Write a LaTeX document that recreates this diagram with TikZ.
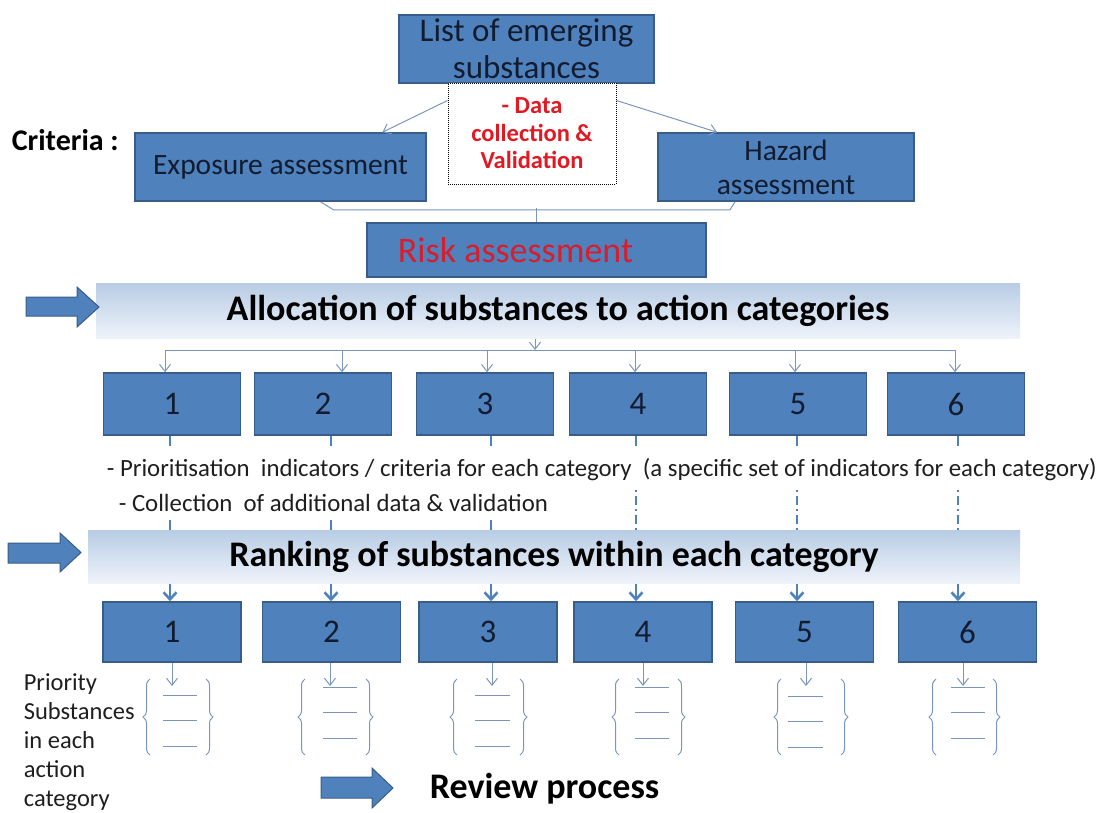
\documentclass[tikz,border=0pt]{standalone}
\usepackage{fontspec}
\setmainfont{Carlito}
\usetikzlibrary{arrows.meta,decorations.pathreplacing}
\definecolor{boxfill}{RGB}{79,129,189}
\definecolor{boxline}{RGB}{56,93,138}
\definecolor{boxtext}{RGB}{18,28,48}
\definecolor{connline}{RGB}{122,150,190}
\definecolor{redtext}{RGB}{225,25,35}
\definecolor{risktext}{RGB}{215,30,45}
\definecolor{bantop}{RGB}{184,204,228}
\definecolor{banbot}{RGB}{238,243,250}
\definecolor{plaintext}{RGB}{30,30,30}
\tikzset{
every picture/.style={
line width=1pt
}}
\newcommand{\fsz}[2]{\fontsize{#1}{#2}\selectfont}

\begin{document}
\begin{tikzpicture}[x=1pt, y=-1pt,
block/.style = {rectangle, draw=boxline, fill=boxfill, line width=1.6pt, inner sep=0pt, align=center, text=boxtext},
banner/.style = {rectangle, top color=bantop, bottom color=banbot, inner sep=0pt, font=\bfseries\fsz{36}{42}},
conn/.style = {draw=connline, line width=1pt},
tip/.style = {conn, -{Straight Barb[length=7pt,width=11pt]}},
stub/.style = {draw=boxfill, line width=2.6pt},
bigtip/.style = {stub, -{Straight Barb[length=7pt,width=13pt]}},
bigarrow/.style = {fill=boxfill, draw=boxline, line width=1pt},
curly/.style = {conn, decorate, decoration={brace, amplitude=7pt}}]

\useasboundingbox (0,0) rectangle (1100,812);

% top part
\node[block, minimum width=255pt, minimum height=68pt, font=\fsz{33}{37}] (list) at (526.5,49) {List of emerging\\substances};
\node[draw=black, densely dotted, fill=white, minimum width=168pt, minimum height=101pt, inner sep=0pt, align=center, text=redtext, font=\bfseries\fsz{24.5}{27.5}] (data) at (532,133.5) {- Data\\collection \&\\Validation};
\node[anchor=west, font=\bfseries\fsz{30}{34}] (crit) at (8,140) {Criteria :};
\node[block, minimum width=291pt, minimum height=68pt, font=\fsz{29.5}{34}] (expo) at (280.5,167) {Exposure assessment};
\node[block, minimum width=256pt, minimum height=68pt, font=\fsz{29.5}{34}] (haz) at (786,167) {Hazard\\assessment};
\node[block, minimum width=339pt, minimum height=54pt, text=risktext, font=\fsz{36}{40}] (risk) at (536.5,250) {Risk assessment\hspace*{42pt}};

\draw[tip] ([yshift=33pt]data.west) -- ([xshift=102pt]expo.north);
\draw[tip] ([yshift=33pt]data.east) -- ([xshift=-69pt]haz.north);
\draw[conn] ([xshift=40pt]expo.south) -- ++(13,8) -- ([xshift=-56pt,yshift=-8pt]haz.south) -- ([xshift=-51pt]haz.south);
\draw[conn] (risk.north) -- ++(0,-14);

% banners
\node[banner, minimum width=924pt, minimum height=55pt] (alloc) at (558,310.5) {Allocation of substances to action categories};
\node[banner, minimum width=932pt, minimum height=53pt] (rank) at (554,556.5) {Ranking of substances within each category};
\draw[bigarrow] (26,297) -- (77,297) -- (77,287) -- (99,307) -- (77,327) -- (77,316) -- (26,316) -- cycle;
\draw[bigarrow] (8,543) -- (60,543) -- (60,533) -- (81,552.5) -- (60,572) -- (60,563) -- (8,563) -- cycle;
\draw[bigarrow] (321,777) -- (372,777) -- (372,768) -- (393,788) -- (372,808) -- (372,798) -- (321,798) -- cycle;

% action categories
\foreach \c [count=\i] in {172,323,485,638,798,956}
  \node[block, minimum width=137pt, minimum height=62pt, font=\fsz{33}{37}] (r1-\i) at (\c,404) {\i};
\foreach \c [count=\i] in {172,331.5,488,643,804.5,967.5}
  \node[block, minimum width=138pt, minimum height=60pt, font=\fsz{33}{37}] (r2-\i) at (\c,632) {\i};

\coordinate (split) at (535,350);
\draw[tip] ([xshift=-23pt]alloc.south) -- (split);
\draw[conn] (split -| 165,0) -- (split -| 955,0);
\foreach \ax [count=\i] in {165,342,487,635,795,955}
  \draw[tip] (split -| \ax,0) -- (r1-\i.north -| \ax,0);

\foreach \t [count=\i] in {170,331,491,636,797,958} {
  \draw[stub] (r1-\i.south -| \t,0) -- ++(0,10);
  \draw[bigtip] (rank.south -| \t,0) -- (r2-\i.north -| \t,0);
}
\foreach \t in {170,331,491}
  \draw[stub] (rank.north -| \t,0) -- ++(0,-10);
\foreach \t in {636,797,958}
  \draw[stub, dash pattern=on 2pt off 4pt on 9pt off 4pt] (rank.north -| \t,0) -- ++(0,-42);

\node[anchor=west, font=\fsz{24.8}{28}, text=plaintext] (ind) at (103,470) {- Prioritisation\ \ indicators / criteria for each category\ \ (a specific set of indicators for each category)};
\node[anchor=west, font=\fsz{24.8}{28}, text=plaintext] (coll) at (115,503) {- Collection\ \ of additional data \& validation};

% priority substances
\foreach \l/\r/\a/\b/\y/\ax [count=\i] in {143/213/163/197/695/172, 298/373/323/357/687/330, 450/527/475/510/695/492, 612/685/635/669/687/643, 774/848/788/823/696/806, 929/1000/951/985/687/963} {
  \draw[curly] (\l+7,755) -- (\l+7,679);
  \draw[curly] (\r-7,679) -- (\r-7,755);
  \foreach \k in {0,1,2}
    \draw[conn] (\a,\y+25.5*\k) -- (\b,\y+25.5*\k);
  \draw[tip] (r2-\i.south -| \ax,0) -- (\ax,686);
}
\node[anchor=north west, align=left, font=\fsz{24.5}{29}, text=plaintext] (prio) at (20,670) {Priority\\Substances\\in each\\action\\category};

\node[anchor=west, font=\bfseries\fsz{36}{40}] (review) at (426,789) {Review process};
\end{tikzpicture}
\end{document}
